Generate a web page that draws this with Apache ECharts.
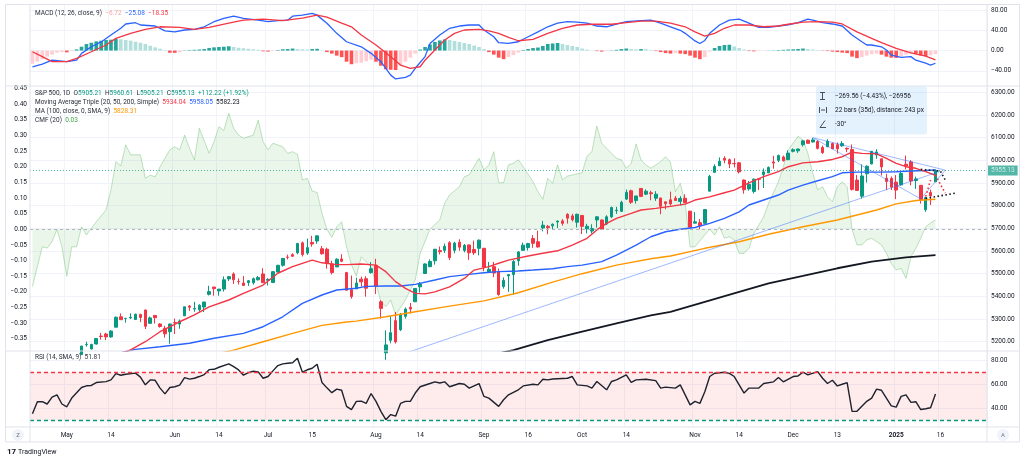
<!DOCTYPE html>
<html>
<head>
<meta charset="utf-8">
<title>S&P 500, 1D</title>
<script src="https://cdn.jsdelivr.net/npm/echarts@6.0.0/dist/echarts.min.js"></script>
<style>
  html, body { margin: 0; padding: 0; background: #fff; }
  #chart { width: 1024px; height: 460px; }
</style>
</head>
<body>
<div id="chart"></div>
<script>
// ---- calendar ----
const holidays = ['2024-05-27', '2024-06-19', '2024-07-04', '2024-09-02', '2024-11-28',
  '2024-12-25', '2025-01-01', '2025-01-09', '2025-01-20'];
function tradingDays(start, count) {
  const out = [];
  const d = new Date(start + 'T00:00:00Z');
  while (out.length < count) {
    const s = d.toISOString().slice(0, 10);
    const wd = d.getUTCDay();
    if (wd !== 0 && wd !== 6 && holidays.indexOf(s) < 0) out.push(s);
    d.setUTCDate(d.getUTCDate() + 1);
  }
  return out;
}
const dates = tradingDays('2024-04-22', 195); // last 10 are empty space on the right

const tickDates = ['2024-05-01', '2024-05-14', '2024-06-03', '2024-06-14', '2024-07-01', '2024-07-15',
  '2024-08-01', '2024-08-14', '2024-09-03', '2024-09-16', '2024-10-01', '2024-10-14', '2024-11-01',
  '2024-11-14', '2024-12-02', '2024-12-13', '2025-01-02', '2025-01-16'];
const tickLabels = ['May', '14', 'Jun', '14', 'Jul', '15', 'Aug', '14', 'Sep', '16', 'Oct', '14',
  'Nov', '14', 'Dec', '13', '2025', '16'];

const priceTicks = [5200, 5300, 5400, 5500, 5600, 5700, 5800, 5900, 6000, 6100, 6200, 6300];
const cmfTicks = [-0.35, -0.3, -0.25, -0.2, -0.15, -0.1, -0.05, 0, 0.05, 0.1, 0.15, 0.2, 0.25, 0.3, 0.35, 0.4, 0.45];
const macdTicks = [-40, 0, 40, 80];
const rsiTicks = [40, 60, 80];

// ---- price bars: open, high, low, close ----
const ohlc = [
  [4987,5038,4969,5011],[5028,5076,5027,5071],[5084,5089,5047,5071],[5019,5057,5001,5048],[5084,5114,5073,5100],
  [5114,5123,5089,5116],[5098,5102,5035,5036],[5029,5096,5013,5018],[5050,5073,5011,5064],[5122,5139,5101,5128],
  [5143,5181,5143,5181],[5187,5200,5178,5188],[5168,5191,5166,5188],[5190,5215,5187,5214],[5225,5239,5209,5223],
  [5234,5239,5207,5221],[5221,5250,5218,5247],[5264,5311,5264,5308],[5310,5325,5297,5297],[5302,5305,5284,5303],
  [5305,5325,5300,5308],[5298,5324,5297,5321],[5320,5324,5286,5307],[5340,5341,5256,5268],[5281,5311,5279,5305],
  [5316,5316,5280,5306],[5278,5282,5262,5267],[5259,5270,5218,5235],[5244,5280,5191,5278],[5284,5302,5234,5283],
  [5278,5298,5257,5291],[5314,5354,5314,5354],[5357,5362,5336,5352],[5344,5376,5332,5347],[5341,5365,5332,5361],
  [5353,5376,5331,5375],[5409,5447,5404,5421],[5441,5442,5403,5434],[5424,5432,5403,5432],[5432,5488,5421,5473],
  [5477,5490,5468,5487],[5499,5506,5455,5473],[5466,5479,5452,5465],[5459,5490,5447,5448],[5461,5472,5446,5469],
  [5460,5483,5452,5478],[5473,5490,5470,5483],[5499,5524,5460,5460],[5471,5480,5448,5475],[5461,5510,5459,5509],
  [5507,5539,5507,5537],[5537,5570,5531,5567],[5573,5584,5563,5572],[5584,5590,5574,5577],[5592,5636,5586,5633],
  [5636,5642,5576,5585],[5591,5655,5583,5615],[5638,5667,5619,5631],[5644,5669,5632,5667],[5610,5622,5584,5588],
  [5608,5615,5522,5545],[5543,5557,5497,5505],[5530,5568,5530,5564],[5565,5586,5551,5555],[5505,5508,5426,5427],
  [5429,5492,5390,5399],[5433,5482,5433,5459],[5476,5487,5444,5464],[5478,5489,5399,5436],[5505,5551,5500,5522],
  [5537,5566,5410,5446],[5376,5383,5302,5347],[5151,5250,5120,5186],[5206,5312,5193,5240],[5293,5331,5192,5199],
  [5253,5327,5247,5319],[5312,5351,5302,5344],[5352,5371,5324,5344],[5376,5436,5376,5435],[5442,5463,5417,5455],
  [5501,5546,5501,5543],[5531,5563,5529,5554],[5557,5609,5540,5608],[5602,5620,5585,5597],[5603,5633,5591,5621],
  [5637,5643,5560,5571],[5603,5641,5590,5635],[5639,5652,5601,5617],[5602,5631,5594,5625],[5627,5628,5561,5592],
  [5607,5646,5583,5592],[5612,5651,5581,5648],[5612,5614,5511,5529],[5506,5552,5504,5520],[5531,5552,5485,5503],
  [5507,5523,5403,5408],[5443,5484,5434,5471],[5490,5497,5420,5496],[5496,5560,5406,5554],[5557,5600,5535,5596],
  [5603,5637,5603,5626],[5615,5636,5602,5633],[5655,5670,5614,5634],[5641,5690,5615,5618],[5702,5733,5687,5714],
  [5709,5715,5674,5703],[5711,5722,5696,5718],[5728,5735,5702,5732],[5733,5741,5712,5722],[5762,5767,5721,5745],
  [5755,5764,5730,5738],[5727,5765,5704,5762],[5757,5758,5675,5709],[5698,5720,5678,5709],[5688,5718,5677,5699],
  [5737,5753,5703,5751],[5737,5739,5696,5696],[5719,5758,5715,5751],[5751,5796,5745,5792],[5778,5795,5764,5780],
  [5775,5822,5775,5815],[5829,5871,5825,5859],[5866,5871,5808,5815],[5823,5843,5809,5843],[5876,5878,5838,5841],
  [5851,5872,5847,5864],[5857,5866,5824,5853],[5833,5864,5821,5851],[5834,5835,5762,5797],[5817,5818,5784,5809],
  [5826,5862,5800,5808],[5833,5843,5823,5823],[5819,5842,5801,5832],[5833,5850,5813,5813],[5776,5777,5703,5705],
  [5723,5772,5723,5729],[5725,5741,5696,5712],[5722,5783,5722,5783],[5864,5936,5864,5929],[5947,5983,5947,5973],
  [5976,6013,5976,5996],[6009,6018,5987,6001],[6003,6008,5966,5984],[5986,6009,5969,5985],[5989,5993,5942,5949],
  [5913,5916,5853,5870],[5874,5909,5866,5894],[5863,5920,5854,5917],[5918,5921,5869,5917],[5937,5964,5878,5949],
  [5945,5973,5944,5969],[5993,6020,5963,5988],[6000,6026,5992,6021],[6015,6021,5995,5998],[6003,6044,6003,6032],
  [6040,6053,6035,6047],[6042,6052,6033,6050],[6069,6089,6061,6086],[6089,6092,6075,6075],[6081,6099,6079,6090],
  [6083,6089,6048,6053],[6057,6065,6029,6034],[6060,6093,6059,6084],[6074,6079,6051,6051],[6069,6079,6030,6051],
  [6064,6085,6060,6074],[6053,6057,6036,6050],[6048,6070,5867,5872],[5913,5935,5866,5867],[5842,5982,5832,5931],
  [5941,5978,5902,5974],[5984,6040,5983,6040],[6024,6049,6007,6037],[6007,6007,5933,5971],[5921,5941,5869,5907],
  [5920,5929,5869,5882],[5904,5935,5829,5869],[5892,5949,5888,5942],[5983,6021,5960,5975],[5993,6001,5890,5909],
  [5911,5928,5874,5918],[5890,5890,5809,5827],[5782,5838,5773,5836],[5858,5871,5803,5843],[5905.21,5960.61,5905.21,5955.13]
];

// ---- moving averages: [bar, value] ----
const ma20 = [[12,5100],[16,5132],[20,5164],[23,5200],[26,5244],[30,5288],[33,5318],[36,5354],[40,5384],[43,5413],
  [47,5450],[50,5502],[53,5531],[57,5560],[59,5548],[62,5540],[64,5540],[67,5543],[70,5538],[72,5509],[74,5465],
  [76,5435],[78,5413],[80,5411],[82,5420],[85,5442],[88,5479],[90,5516],[93,5531],[95,5546],[97,5560],[101,5578],
  [104,5590],[107,5601],[110,5626],[113,5656],[115,5693],[117,5722],[119,5744],[122,5766],[124,5781],[127,5788],
  [130,5797],[133,5807],[135,5825],[138,5839],[141,5857],[143,5869],[146,5901],[149,5928],[152,5950],[154,5972],
  [157,5989],[160,5994],[163,6004],[165,6016],[167,6036],[169,6031],[172,6029],[174,6009],[176,5987],[178,5972],
  [180,5965],[182,5950],[184,5934.04]];
const ma50 = [[14,5140],[18,5152],[21,5166],[26,5178],[32,5193],[37,5215],[43,5237],[47,5266],[51,5310],[55,5369],
  [59,5406],[62,5428],[66,5436],[68,5444],[72,5446],[75,5446],[78,5453],[82,5472],[85,5487],[89,5497],[92,5504],
  [95,5509],[99,5512],[102,5516],[106,5522],[109,5531],[112,5538],[116,5553],[119,5582],[123,5626],[126,5663],
  [129,5685],[132,5696],[135,5704],[138,5722],[141,5744],[144,5773],[146,5803],[149,5825],[152,5847],[154,5869],
  [157,5891],[160,5910],[163,5928],[165,5945],[168,5948],[171,5948],[173,5948],[176,5950],[179,5953],[182,5955],
  [184,5958.05]];
const ma100 = [[30,5110],[41,5163],[47,5200],[53,5237],[59,5272],[64,5287],[66,5291],[72,5310],[78,5332],[85,5357],
  [92,5380],[99,5416],[106,5463],[112,5500],[119,5538],[126,5566],[130,5578],[137,5612],[144,5641],[150,5674],
  [157,5707],[164,5737],[168,5759],[172,5781],[176,5808],[180,5823],[184,5828.31]];
const ma200 = [[90,5125],[98,5163],[105,5207],[112,5244],[119,5281],[126,5316],[130,5332],[137,5376],[144,5420],
  [150,5457],[157,5490],[164,5524],[171,5553],[178,5572],[184,5582.23]];

// ---- Chaikin money flow (20) ----
const cmf = [[0,-0.183],[1,-0.12],[2,-0.056],[3,-0.06],[4,-0.04],[5,0.0],[6,-0.056],[7,-0.15],[8,-0.056],[9,-0.056],
  [10,0.008],[11,-0.018],[12,0.003],[13,0.024],[15,0.062],[16,0.126],[17,0.216],[18,0.203],[19,0.27],[20,0.238],
  [22,0.238],[23,0.163],[24,0.173],[25,0.168],[26,0.2],[28,0.254],[29,0.264],[30,0.254],[31,0.301],[32,0.259],
  [33,0.222],[34,0.323],[36,0.243],[37,0.28],[38,0.328],[39,0.316],[40,0.371],[41,0.323],[42,0.301],[43,0.291],
  [45,0.301],[46,0.349],[47,0.28],[48,0.254],[49,0.275],[51,0.264],[52,0.243],[53,0.248],[54,0.24],[55,0.158],
  [56,0.163],[57,0.122],[58,0.118],[59,0.051],[60,0.0],[61,-0.026],[62,0.008],[63,0.024],[64,-0.056],[65,-0.114],
  [66,-0.15],[67,-0.088],[69,-0.12],[71,-0.231],[72,-0.247],[73,-0.226],[74,-0.274],[76,-0.226],[78,-0.162],
  [79,-0.077],[81,0.0],[83,0.03],[84,0.084],[85,0.11],[87,0.136],[88,0.168],[89,0.174],[91,0.227],[92,0.19],
  [93,0.206],[94,0.248],[95,0.149],[96,0.149],[97,0.206],[98,0.211],[99,0.222],[100,0.2],[102,0.152],[103,0.12],
  [104,0.096],[105,0.163],[106,0.147],[107,0.206],[108,0.158],[109,0.17],[112,0.181],[113,0.234],[114,0.248],
  [115,0.33],[116,0.275],[117,0.259],[119,0.227],[120,0.222],[121,0.195],[122,0.211],[123,0.273],[124,0.222],
  [125,0.206],[126,0.195],[128,0.216],[129,0.232],[130,0.215],[131,0.12],[132,0.147],[133,0.083],[134,-0.056],
  [135,-0.056],[137,-0.018],[138,0.0],[139,-0.018],[140,0.008],[141,-0.029],[142,-0.024],[143,-0.034],[144,-0.077],
  [145,-0.077],[146,-0.061],[147,-0.013],[149,0.04],[150,0.083],[152,0.152],[153,0.2],[154,0.254],[156,0.297],
  [157,0.286],[158,0.243],[159,0.179],[160,0.126],[161,0.136],[162,0.104],[163,0.088],[164,0.136],[165,0.152],
  [166,0.136],[167,0.0],[168,-0.05],[169,-0.05],[170,-0.034],[171,-0.029],[173,-0.05],[174,-0.077],[175,-0.109],
  [176,-0.13],[177,-0.125],[178,-0.157],[179,-0.088],[180,-0.061],[181,-0.029],[182,0.008],[183,0.02],[184,0.03]];

// ---- MACD (12, 26, close, 9) ----
const macdHist = [
  -26,-22,-17,-12,-8,-4,-3,-3.5,-1,2.3,
  7.6,12.9,15.5,18.2,19.5,20.8,21.5,22.8,22.1,20.8,
  19.5,17.5,15.5,12.9,9.6,6.3,3.6,1,-4.3,-4.5,
  -3.3,0.5,1,1.5,2,3,5,6.3,7,7.6,
  8.5,7,5.5,4.5,3.5,2.5,1.5,-1.5,-2,-1,
  1,2.5,3,4,3,2.5,2,3,3.5,0.5,
  -3,-6,-10,-13,-22,-27,-25,-24,-21,-18,
  -22,-30,-37,-38,-38.5,-30,-22,-14,-6,2,
  7,12,17,20,22,21,19,17,15,13,
  10,7,3,-3,-8,-14,-17,-13,-9,-4,
  1,3,5,6,9,13,14,15,13,11,
  9,7,4,2,0.5,-1,-2,-1,0.5,1.5,
  3,4,3,2.5,3,2.5,1,-1,-3,-5,
  -6,-5,-6,-7,-10,-14,-17,-13,-2,5,
  9,11,11.5,8,5,2,-1,-1.5,-1,-0.5,
  0.3,0.5,1,1.5,2,2.5,3,4,3,2,
  1,-0.5,-1,-2,-3,-4,-5,-12,-15,-13,
  -10,-7,-6,-8,-12,-14,-14.5,-11,-8,-6,
  -6.5,-9.5,-11,-9.5,-6.72];
const macdLine = [[0,-32],[2,-26.7],[4,-19],[7,-22],[9,-19],[10,-5.6],[12,7.6],[14,17],[16,30.7],[18,44],[19,52.5],
  [21,55],[22,50.5],[25,48.5],[27,39],[29,37],[31,40.6],[33,42],[35,47],[37,57],[39,63.7],[41,68],[43,63.7],
  [46,60],[48,57],[50,59],[52,60],[53,68],[55,70],[57,73.6],[58,70],[60,54],[62,34],[64,17.4],[67,7.5],[69,-5.5],
  [71,-22],[73,-48.5],[74,-56],[76,-53],[77,-48.5],[78,-35],[80,-12],[81,14],[83,30.7],[85,44],[87,48.5],
  [89,50.5],[91,50.5],[92,40.6],[94,27.3],[95,15.5],[97,14],[99,17.4],[101,27.3],[103,37],[105,47],[107,54],
  [109,57],[111,56],[113,54],[115,48.5],[117,47],[119,52],[121,57],[124,59],[126,60],[128,54],[130,47],[132,40],
  [133,34],[135,19],[136,14],[137,20],[138,34],[140,50.5],[142,60],[144,62],[146,54],[148,46],[150,46],[152,48.5],
  [154,51],[156,55],[158,62],[159,60],[161,55],[163,52.5],[165,48.5],[167,30.7],[169,17.4],[170,11],[171,11],
  [173,7.5],[174,1],[175,-9],[177,-13.5],[179,-12],[180,-19],[182,-25],[183,-28.7],[184,-25.08]];
const signalLine = [[0,-2.4],[2,-12],[4,-21.7],[7,-22],[9,-15.5],[12,-2.4],[15,11],[17,24],[20,34],[23,42],[26,47],
  [30,46],[33,42],[36,46],[40,54],[43,60],[47,62],[51,59],[55,64],[58,70],[60,66],[63,54],[65,47],[67,30.7],
  [70,11],[73,-12],[75,-28.7],[77,-35],[79,-32],[80,-19],[82,1],[84,20.8],[86,34],[88,40.6],[91,42],[93,39],
  [95,34],[97,26],[99,19.4],[102,22],[105,34],[108,44],[111,50.5],[114,52],[118,52],[121,55],[124,58],[127,58],
  [130,54],[133,47],[135,37],[137,28.7],[139,34],[141,44],[143,50.5],[146,50.5],[149,47],[152,48.5],[154,52],
  [157,56],[160,57],[163,56],[165,52.5],[168,37],[171,24],[173,15.5],[176,4.3],[179,-4.4],[182,-11],[184,-18.35]];

// ---- RSI (14) ----
const rsi = [[0,35.5],[1,45.5],[2,45.5],[3,43.6],[4,49.3],[5,51.2],[6,43.6],[7,41.3],[8,48.5],[10,57.3],[11,58.7],
  [12,59],[13,61.4],[15,62.2],[16,63.6],[17,68.8],[18,67.5],[19,68.3],[21,69.2],[22,65.9],[23,59.5],[24,63.6],
  [25,63.3],[26,56.8],[27,52],[28,57.3],[29,57.9],[30,59.2],[31,65.5],[32,64.2],[33,65],[34,66.4],[35,68],
  [36,72.1],[37,72.4],[38,74.1],[40,76.9],[41,74.6],[42,71.9],[43,67.5],[44,69.7],[45,70.8],[46,70.3],[47,65],
  [48,66.4],[49,71.1],[50,75.5],[51,76.9],[52,77.4],[53,77.8],[54,81.5],[55,70],[56,72],[57,73.3],[58,76.6],
  [59,61.4],[60,57],[61,53],[62,55.9],[63,55],[64,41.6],[65,38.9],[66,45.8],[67,46],[68,44.1],[69,52.3],
  [70,45.8],[71,37.5],[72,30.6],[73,34.8],[74,33.5],[75,44.1],[76,45.8],[77,45.8],[78,52.7],[79,57.9],[81,60.6],
  [82,62],[83,61],[84,62],[85,57.9],[87,60.6],[88,60],[89,56.8],[91,60.6],[92,49.9],[93,48.5],[95,41.6],
  [96,47.1],[97,51.2],[99,55.4],[100,58.6],[102,60],[103,59.5],[104,64.2],[105,63.6],[106,64.4],[109,65],
  [110,66.4],[111,59.5],[113,58.6],[114,56.8],[115,62.3],[117,55.4],[118,62.3],[119,63.6],[121,67.8],[122,61.5],
  [123,63.6],[125,64.2],[127,63],[128,56.8],[129,57.6],[131,56.8],[132,59.5],[134,42.9],[135,45.8],[136,44.1],
  [137,53.8],[138,66.4],[139,69.1],[141,70],[142,69],[143,66.4],[145,52.7],[146,56.8],[148,56.8],[149,60.6],
  [151,62],[152,65.6],[153,62],[155,66.4],[156,66.9],[157,70],[158,67.8],[160,70.5],[161,65],[162,60.6],
  [163,63.3],[164,58.6],[165,60],[166,61.4],[167,37.5],[168,37.5],[170,45.8],[171,48.5],[172,55.9],[173,55],
  [175,42],[176,41],[177,49.9],[178,51.2],[179,44.9],[180,45.5],[181,39],[182,39.7],[183,40.5],[184,51.81]];

// ---- drawings on the price pane: [bar, price] ----
const trendLong = [[72,5120],[185,5952]];
const wedgeUpper = [[159,6100],[186,5957]];
const wedgeLower = [[159,6100],[181,5829.5]];
const wedgeRise = [[181,5829.5],[186,5957]];
const pathBlackA = [[181,5960],[184.6,5953],[186,5913]];
const pathBlackB = [[182.3,5832],[187.7,5855]];
const pathRedA = [[181.6,5840],[183.3,5913]];
const pathRedB = [[184.3,5935],[186.3,5855]];

// ---- styling ----
const FONT = 'Roboto, "Liberation Sans", sans-serif';
const TXT = '#131722';
const GRID_LINE = '#f0f3fa';
const BORDER = '#e0e3eb';
const UP = '#089981';
const DOWN = '#f23645';
const FS = 6.5;

const tickMap = {};
tickDates.forEach((d, k) => { tickMap[d] = tickLabels[k]; });
const isTick = (i, v) => tickMap[v] !== undefined;
const fmt = v => v.toFixed(2).replace('-', '\u2212');
const lastClose = ohlc[ohlc.length - 1][3];

function xAxisFor(g) {
  return {
    type: 'category', gridIndex: g, data: dates, boundaryGap: true,
    axisLine: { show: false }, axisTick: { show: false },
    axisLabel: {
      show: g === 2, interval: isTick, margin: 5, color: TXT, fontSize: FS, fontFamily: FONT,
      formatter: v => tickMap[v] === '2025' ? '{b|2025}' : tickMap[v],
      rich: { b: { fontWeight: 'bold', fontSize: FS, color: TXT, fontFamily: FONT } }
    },
    splitLine: { show: true, interval: isTick, lineStyle: { color: GRID_LINE, width: 1 } }
  };
}
function yAxisFor(g, pos, min, max, ticks, showSplit) {
  return {
    type: 'value', gridIndex: g, position: pos, min, max, scale: true,
    axisLine: { show: false }, axisTick: { show: false, customValues: ticks },
    axisLabel: { customValues: ticks, formatter: fmt, color: TXT, fontSize: FS, fontFamily: FONT, margin: pos === 'right' ? 4 : 3 },
    splitLine: { show: showSplit, lineStyle: { color: GRID_LINE, width: 1 } }
  };
}
function histColor(p) {
  const v = macdHist[p.dataIndex];
  const prev = p.dataIndex > 0 ? macdHist[p.dataIndex - 1] : v;
  if (v >= 0) return v >= prev ? '#26a69a' : '#b2dfdb';
  return v < prev ? '#ff5252' : '#ffcdd2';
}
function lineSeries(data, color, width, xi, yi, extra) {
  return Object.assign({
    type: 'line', xAxisIndex: xi, yAxisIndex: yi, data, showSymbol: false, silent: true,
    lineStyle: { color, width }, z: 4
  }, extra || {});
}
function txt(x, y, text, rich) {
  return {
    type: 'text', x, y, silent: true, z: 100,
    style: { text, rich, fontSize: FS, fontFamily: FONT, fill: TXT, verticalAlign: 'middle' }
  };
}
const legendRich = {
  d: { fill: '#2a2e39', fontSize: FS, fontFamily: FONT },
  g: { fill: UP, fontSize: FS, fontFamily: FONT },
  r: { fill: DOWN, fontSize: FS, fontFamily: FONT },
  b: { fill: '#2962ff', fontSize: FS, fontFamily: FONT },
  k: { fill: '#131722', fontSize: FS, fontFamily: FONT },
  o: { fill: '#ff9800', fontSize: FS, fontFamily: FONT },
  c: { fill: '#43a047', fontSize: FS, fontFamily: FONT },
  p: { fill: '#f7a1a6', fontSize: FS, fontFamily: FONT }
};
const hline = (x1, y1, x2, y2) => ({ type: 'line', silent: true, z: 90,
  shape: { x1, y1, x2, y2 }, style: { stroke: BORDER, lineWidth: 1 } });

const chart = echarts.init(document.getElementById('chart'), null, { renderer: 'canvas' });
chart.setOption({
  animation: false,
  backgroundColor: '#ffffff',
  textStyle: { fontFamily: FONT },
  grid: [
    { left: 30, right: 37, top: 5, height: 81 },
    { left: 30, right: 37, top: 86, height: 265 },
    { left: 30, right: 37, top: 351, height: 76 }
  ],
  xAxis: [xAxisFor(0), xAxisFor(1), xAxisFor(2)],
  yAxis: [
    yAxisFor(0, 'right', -70, 90, macdTicks, true),
    yAxisFor(1, 'right', 5159, 6328, priceTicks, true),
    yAxisFor(1, 'left', -0.389, 0.458, cmfTicks, false),
    yAxisFor(2, 'right', 24.5, 87.6, rsiTicks, true)
  ],
  series: [
    { type: 'bar', xAxisIndex: 0, yAxisIndex: 0, data: macdHist, barWidth: '74%', silent: true,
      itemStyle: { color: histColor }, z: 2 },
    lineSeries(macdLine, '#2962ff', 1.3, 0, 0),
    lineSeries(signalLine, '#f23645', 1.3, 0, 0),

    lineSeries(cmf, 'rgba(76,175,80,0.35)', 1, 1, 2, {
      z: 1, areaStyle: { color: 'rgba(76,175,80,0.17)' },
      markLine: { silent: true, symbol: ['none', 'none'], data: [{ yAxis: 0 }],
        lineStyle: { color: '#b2b5be', type: [3, 3], width: 1 }, label: { show: false } }
    }),
    { type: 'candlestick', xAxisIndex: 1, yAxisIndex: 1, silent: true, z: 3,
      data: ohlc.map(r => [r[0], r[3], r[2], r[1]]), barWidth: '62%',
      itemStyle: { color: UP, color0: DOWN, borderColor: UP, borderColor0: DOWN, borderWidth: 1 },
      markLine: { silent: true, symbol: ['none', 'none'], data: [{ yAxis: lastClose }],
        lineStyle: { color: UP, type: [1, 2], width: 1, opacity: 0.7 },
        label: { show: true, position: 'end', distance: 1, formatter: lastClose.toFixed(2), color: '#fff',
          backgroundColor: UP, padding: [2, 3, 1, 3], fontSize: FS, fontFamily: FONT } } },
    lineSeries(ma100, '#ff9800', 1.4, 1, 1),
    lineSeries(ma200, '#131722', 1.8, 1, 1),
    lineSeries(ma50, '#2962ff', 1.4, 1, 1),
    lineSeries(ma20, '#f23645', 1.4, 1, 1),

    lineSeries(trendLong, 'rgba(41,98,255,0.45)', 1, 1, 1, { z: 5 }),
    lineSeries(wedgeUpper, 'rgba(41,98,255,0.45)', 1, 1, 1, { z: 5 }),
    lineSeries(wedgeLower, 'rgba(41,98,255,0.45)', 1, 1, 1, { z: 5 }),
    lineSeries(wedgeRise, 'rgba(41,98,255,0.45)', 1, 1, 1, { z: 5 }),
    lineSeries(pathBlackA, '#131722', 1.6, 1, 1, { z: 6, lineStyle: { color: '#131722', width: 1.6, type: [1.6, 2.4] } }),
    lineSeries(pathBlackB, '#131722', 1.6, 1, 1, { z: 6, lineStyle: { color: '#131722', width: 1.6, type: [1.6, 2.4] } }),
    lineSeries(pathRedA, '#f23645', 1.6, 1, 1, { z: 6, lineStyle: { color: '#f23645', width: 1.6, type: [1.6, 2.4] } }),
    lineSeries(pathRedB, '#f23645', 1.6, 1, 1, { z: 6, lineStyle: { color: '#f23645', width: 1.6, type: [1.6, 2.4] } }),

    lineSeries(rsi, '#1e222d', 1.4, 2, 3, {
      markArea: { silent: true, data: [[{ yAxis: 30 }, { yAxis: 70 }]], itemStyle: { color: 'rgba(242,54,69,0.1)' } },
      markLine: { silent: true, symbol: ['none', 'none'], label: { show: false },
        data: [{ yAxis: 70, lineStyle: { color: '#f23645', type: [4, 3], width: 1.3 } },
               { yAxis: 30, lineStyle: { color: '#089981', type: [4, 3], width: 1.3 } }] }
    })
  ],
  graphic: [
    { type: 'rect', silent: true, z: 89, shape: { x: 5.5, y: 4.5, width: 1014, height: 437.5 },
      style: { fill: 'none', stroke: BORDER, lineWidth: 1 } },
    hline(5, 86, 1020, 86), hline(5, 351, 1020, 351), hline(5, 427, 1020, 427),
    hline(30, 4, 30, 442), hline(987, 4, 987, 442),

    txt(35, 13, '{d|MACD (12, 26, close, 9)}  {p|\u22126.72}  {b|\u221225.08}  {r|\u221218.35}', legendRich),
    txt(35, 93.5, '{d|S&P 500, 1D}  {d|O}{g|5905.21}  {d|H}{g|5960.61}  {d|L}{g|5905.21}  {d|C}{g|5955.13}  {g|+112.22 (+1.92%)}', legendRich),
    txt(35, 102.5, '{d|Moving Average Triple (20, 50, 200, Simple)}  {r|5934.04}  {b|5958.05}  {k|5582.23}', legendRich),
    txt(35, 111.5, '{d|MA (100, close, 0, SMA, 9)}  {o|5828.31}', legendRich),
    txt(35, 120.5, '{d|CMF (20)}  {c|0.03}', legendRich),
    txt(35, 357, '{d|RSI (14, SMA, 9)}  {d|51.81}', legendRich),

    { type: 'rect', silent: true, z: 95, shape: { x: 816, y: 86.5, width: 111, height: 48, r: 2 },
      style: { fill: 'rgba(33,150,243,0.12)' } },
    { type: 'polyline', silent: true, z: 96, shape: { points: [[820, 92.5], [825, 92.5]] }, style: { stroke: '#4a4e58', lineWidth: 1 } },
    { type: 'polyline', silent: true, z: 96, shape: { points: [[822.5, 92.5], [822.5, 99.5]] }, style: { stroke: '#4a4e58', lineWidth: 1 } },
    { type: 'polyline', silent: true, z: 96, shape: { points: [[820, 99.5], [825, 99.5]] }, style: { stroke: '#4a4e58', lineWidth: 1 } },
    { type: 'polyline', silent: true, z: 96, shape: { points: [[819.5, 107], [819.5, 113]] }, style: { stroke: '#4a4e58', lineWidth: 1 } },
    { type: 'polyline', silent: true, z: 96, shape: { points: [[826.5, 107], [826.5, 113]] }, style: { stroke: '#4a4e58', lineWidth: 1 } },
    { type: 'polyline', silent: true, z: 96, shape: { points: [[821, 110], [825, 110]] }, style: { stroke: '#4a4e58', lineWidth: 1 } },
    { type: 'polyline', silent: true, z: 96, shape: { points: [[825, 120.5], [820, 127.5], [826, 127.5]] }, style: { stroke: '#4a4e58', lineWidth: 1, fill: 'none' } },
    txt(835, 96, '\u2212269.56 (\u22124.43%), \u221226956', null),
    txt(835, 110, '22 bars (35d), distance: 243 px', null),
    txt(835, 124, '-30\u00b0', null),

    { type: 'circle', silent: true, z: 96, shape: { cx: 18, cy: 435, r: 6 }, style: { fill: '#f0f3fa' } },
    { type: 'text', silent: true, z: 97, x: 18, y: 435, style: { text: 'Z', fontSize: 6, fontFamily: FONT, fill: '#787b86', align: 'center', verticalAlign: 'middle' } },
    { type: 'circle', silent: true, z: 96, shape: { cx: 1003, cy: 435, r: 6 }, style: { fill: '#f0f3fa' } },
    { type: 'text', silent: true, z: 97, x: 1003, y: 435, style: { text: 'A', fontSize: 6, fontFamily: FONT, fill: '#787b86', align: 'center', verticalAlign: 'middle' } },

    { type: 'text', silent: true, z: 97, x: 7, y: 452, style: { text: '17', fontSize: 8, fontWeight: 'bold', fontFamily: FONT, fill: TXT, verticalAlign: 'middle' } },
    { type: 'text', silent: true, z: 97, x: 18, y: 452, style: { text: 'TradingView', fontSize: 7, fontFamily: FONT, fill: TXT, verticalAlign: 'middle' } }
  ]
});
</script>
</body>
</html>
